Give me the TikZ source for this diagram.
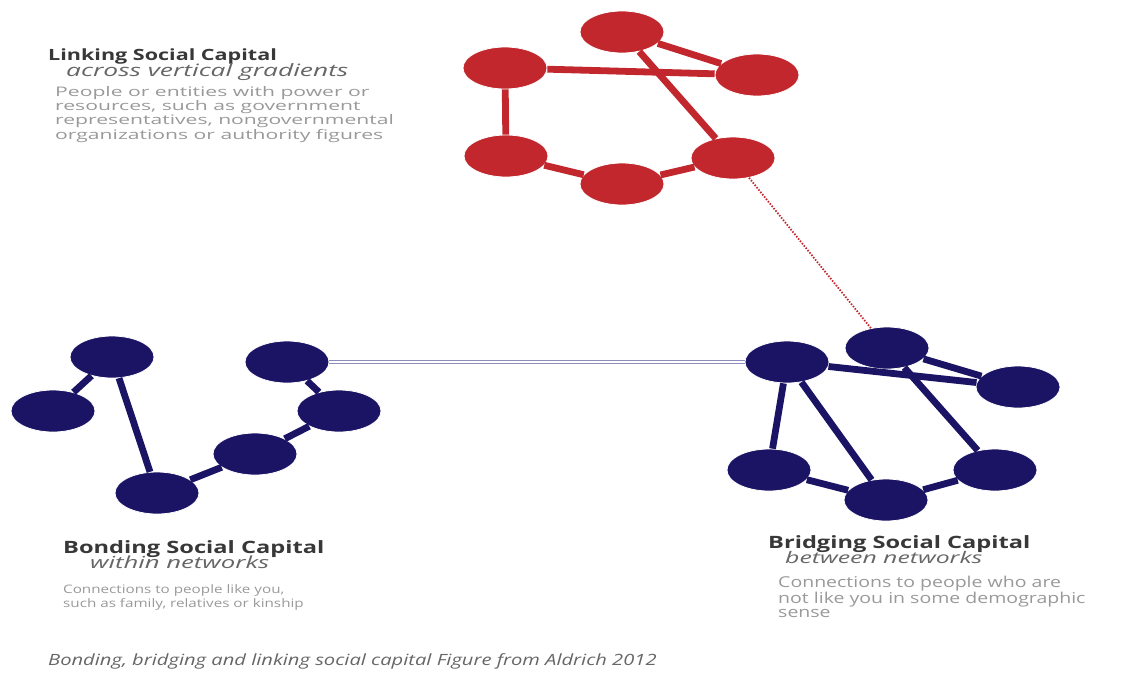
\documentclass[tikz,border=0pt]{standalone}
\usepackage{fontspec}
\setmainfont[FakeStretch=1.3]{Open Sans}
\newfontfamily\headfont[FakeStretch=1.39]{Open Sans}
\newfontfamily\subfont[FakeStretch=1.55]{Open Sans}
\newfontfamily\widefont[FakeStretch=1.6]{Open Sans}
\usepackage{tikz}
\usetikzlibrary{arrows,shapes}
\definecolor{capred}{RGB}{193,39,45}
\definecolor{capblue}{RGB}{27,20,100}
\definecolor{capline}{RGB}{140,140,190}
\tikzstyle{vertex}=[ellipse, draw=white
,line width=0.8pt
,minimum width=84pt
,minimum height=42pt
,inner sep=0pt
]
\tikzstyle{red vertex} = [vertex, fill=capred]
\tikzstyle{blue vertex} = [vertex, fill=capblue]
\tikzstyle{red edge} = [draw,capred,line width=6.8pt,-]
\tikzstyle{blue edge} = [draw,capblue,line width=6.8pt,-]
\tikzstyle{heading} = [anchor=base west, inner sep=0pt, text=black!78]
\tikzstyle{subheading} = [anchor=base west, inner sep=0pt, text=black!60]
\tikzstyle{body} = [anchor=base west, inner sep=0pt, text=black!40, align=left]
\begin{document}
\begin{tikzpicture}[x=1pt,y=-1pt]
    \useasboundingbox (0,0) rectangle (1125,673);
    % Linking network (red)
    \foreach \pos/\name in {{(622,32)/L_1}, {(505,68)/L_2}, {(757,75)/L_3}, {(506,156)/L_4}, {(622,184)/L_5}, {(733,158)/L_6}}
        \node[red vertex] (\name) at \pos {};
    % Bonding network (blue, left)
    \foreach \pos/\name in {{(112,357)/B_1}, {(53,411)/B_2}, {(157,493)/B_3}, {(255,454)/B_4}, {(339,411)/B_5}, {(287,362)/B_6}}
        \node[blue vertex] (\name) at \pos {};
    % Bridging network (blue, right)
    \foreach \pos/\name in {{(787,362)/G_1}, {(887,348)/G_2}, {(1018,387)/G_3}, {(769,470)/G_4}, {(886,500)/G_5}, {(995,470)/G_6}}
        \node[blue vertex] (\name) at \pos {};

    % Connect vertices with edges
    \foreach \source/ \dest in {L_1/L_3, L_2/L_3, L_1/L_6, L_2/L_4, L_4/L_5, L_5/L_6}
        \path[red edge] (\source) -- (\dest) ;
    \foreach \source/ \dest in {B_1/B_2, B_1/B_3, B_3/B_4, B_4/B_5, B_5/B_6}
        \path[blue edge] (\source) -- (\dest) ;
    \foreach \source/ \dest in {G_1/G_3, G_2/G_3, G_2/G_6, G_1/G_4, G_1/G_5, G_4/G_5, G_5/G_6}
        \path[blue edge] (\source) -- (\dest) ;

    % Ties between the networks
    \draw[capline, line width=1pt, double=white, double distance=2pt] (B_6) -- (G_1);
    \draw[capred, line width=1.8pt, dash pattern=on 1.5pt off 1.5pt] (L_6) -- (G_2);

    % Labels
    \node[heading, font=\headfont\bfseries\fontsize{15.5}{16}\selectfont] (linktitle) at (48,60) {Linking Social Capital};
    \node[subheading, font=\subfont\itshape\fontsize{17}{17}\selectfont] (linksub) at (66,76) {across vertical gradients};
    \node[body, font=\widefont\fontsize{13.2}{12.8}\selectfont] (linkbody) at (55,139) {People or entities with power or\\ resources, such as government\\ representatives, nongovernmental\\ organizations or authority figures};

    \node[heading, font=\headfont\bfseries\fontsize{17}{17}\selectfont] (bondtitle) at (63,553) {Bonding Social Capital};
    \node[subheading, font=\subfont\itshape\fontsize{16.6}{16}\selectfont] (bondsub) at (90,568) {within networks};
    \node[body, font=\fontsize{11.7}{13.5}\selectfont] (bondbody) at (63,607) {Connections to people like you,\\ such as family, relatives or kinship};

    \node[heading, font=\headfont\bfseries\fontsize{17}{17}\selectfont] (bridgetitle) at (768,548) {Bridging Social Capital};
    \node[subheading, font=\subfont\itshape\fontsize{16}{16}\selectfont] (bridgesub) at (785,563) {between networks};
    \node[body, font=\fontsize{15}{14}\selectfont] (bridgebody) at (778,617) {Connections to people who are\\ not like you in some demographic\\ sense};

    \node[subheading, font=\itshape\fontsize{15.5}{15.5}\selectfont] (caption) at (48,665) {Bonding, bridging and linking social capital Figure from Aldrich 2012};
\end{tikzpicture}
\end{document}
